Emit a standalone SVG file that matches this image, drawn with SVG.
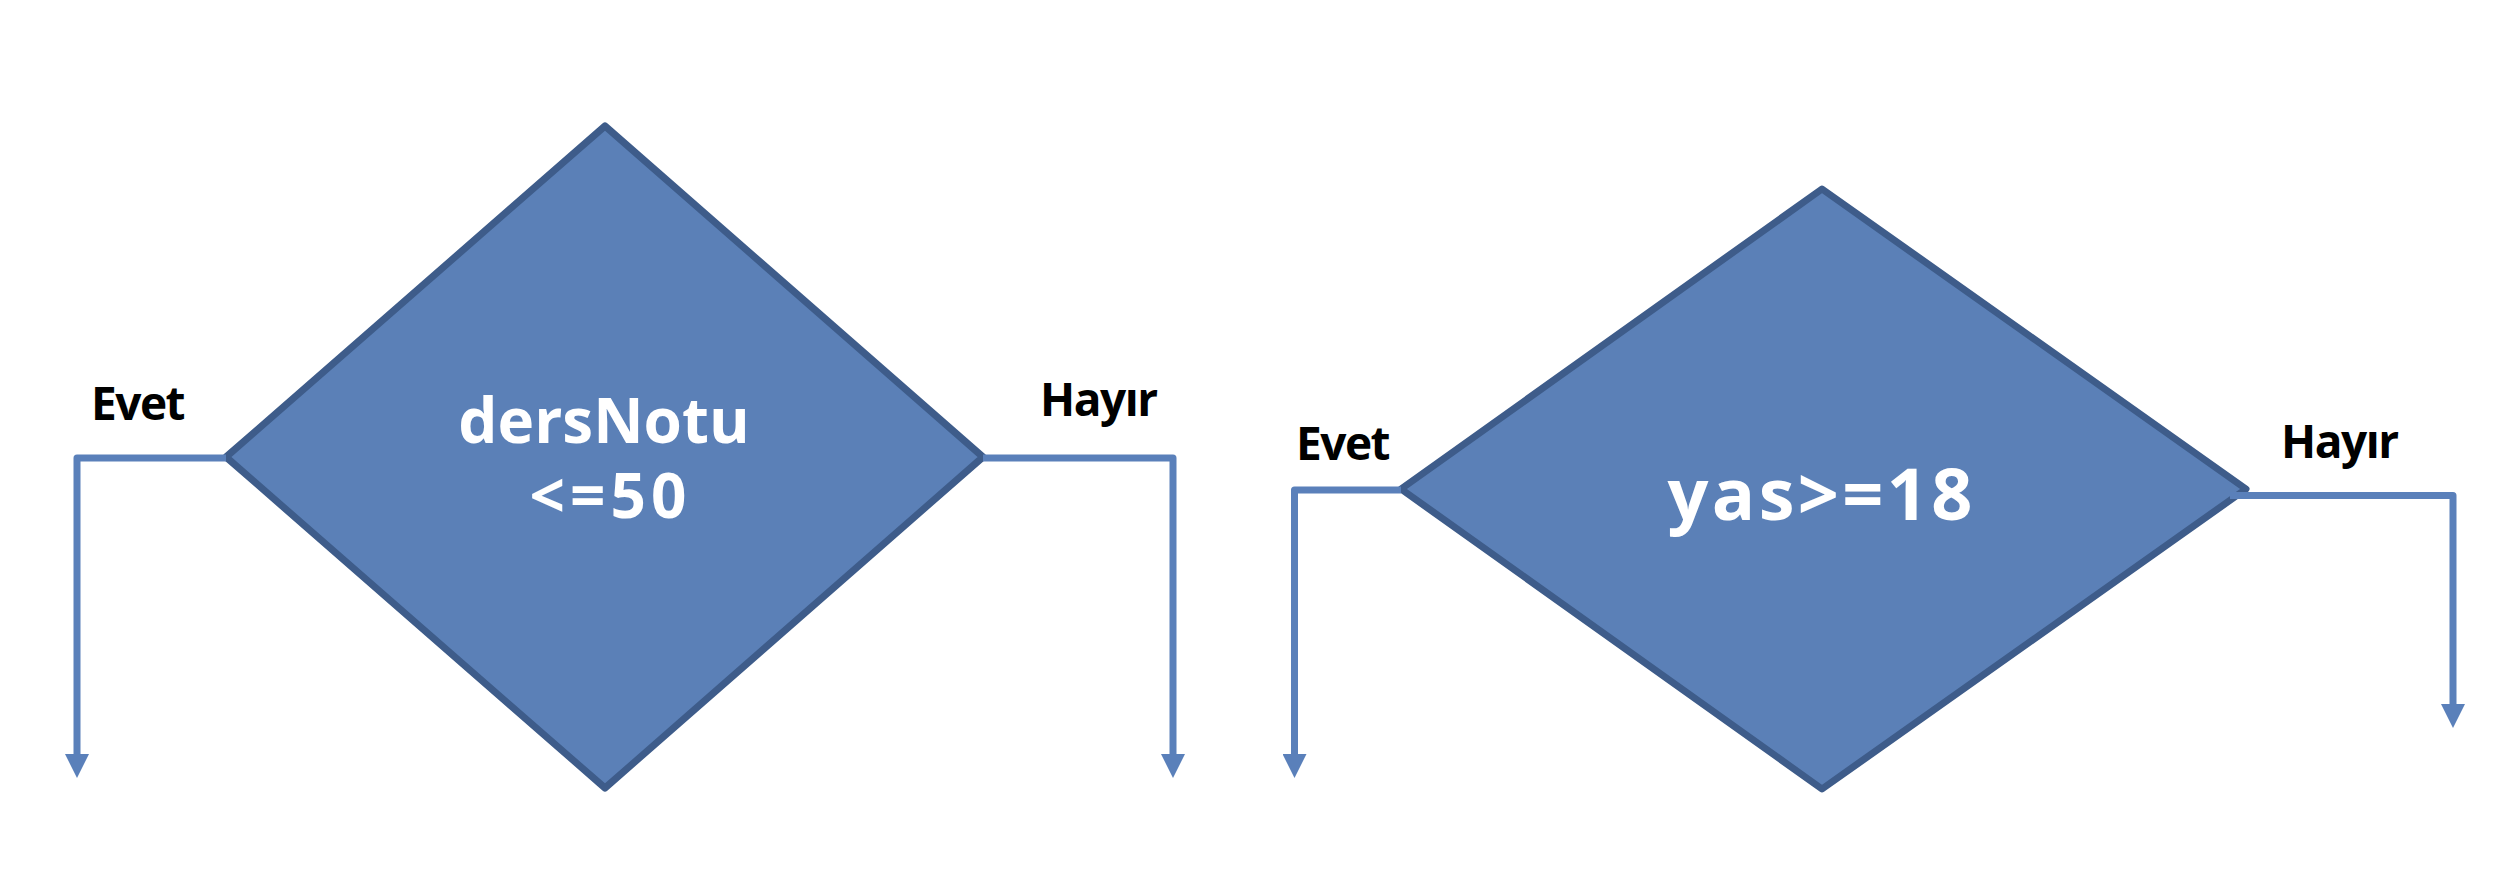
<svg xmlns="http://www.w3.org/2000/svg" width="2494" height="888" viewBox="0 0 2494 888">
  <style>
    .node { fill: #5B80B7; stroke: #3E5C8A; stroke-width: 7; stroke-linejoin: round; }
    .conn { fill: none; stroke: #5A80BA; stroke-width: 7; stroke-linejoin: round; }
    .label { font-family: "Open Sans", "Liberation Sans", sans-serif; font-weight: bold; font-size: 46px; fill: #000000; letter-spacing: -1.5px; }
    .inner { font-family: "Open Sans", "Liberation Sans", sans-serif; font-weight: bold; fill: #FFFFFF; text-anchor: middle; }
  </style>
  <defs>
    <marker id="arrow" markerUnits="userSpaceOnUse" markerWidth="24" markerHeight="24" refX="0" refY="12" orient="auto" viewBox="0 0 24 24">
      <path d="M0,0 L24,12 L0,24 Z" fill="#5A80BA"/>
    </marker>
  </defs>
  <rect width="2494" height="888" fill="#FFFFFF"/>

  <g id="node-dersNotu">
    <polygon class="node" points="605,126 983,457 605,788 226,457"/>
    <text class="inner" font-size="62"><tspan x="604" y="443">dersNotu</tspan><tspan x="608" y="518" textLength="157" lengthAdjust="spacing">&lt;=50</tspan></text>
  </g>

  <g id="node-yas">
    <polygon class="node" points="1822,189 2246,489 1822,789 1401,489"/>
    <text class="inner" x="1820" y="520" font-size="72" textLength="305" lengthAdjust="spacing">yas&gt;=18</text>
  </g>

  <g id="connectors">
    <path class="conn" d="M226,458 H77 V754" marker-end="url(#arrow)"/>
    <path class="conn" d="M983,458 H1173 V754" marker-end="url(#arrow)"/>
    <path class="conn" d="M1401,490 H1294.5 V754" marker-end="url(#arrow)"/>
    <path class="conn" d="M2230,495.5 H2453 V704" marker-end="url(#arrow)"/>
  </g>

  <g id="labels">
    <text class="label" x="91" y="420">Evet</text>
    <text class="label" x="1040" y="416">Hayır</text>
    <text class="label" x="1296" y="460">Evet</text>
    <text class="label" x="2281" y="458">Hayır</text>
  </g>
</svg>
